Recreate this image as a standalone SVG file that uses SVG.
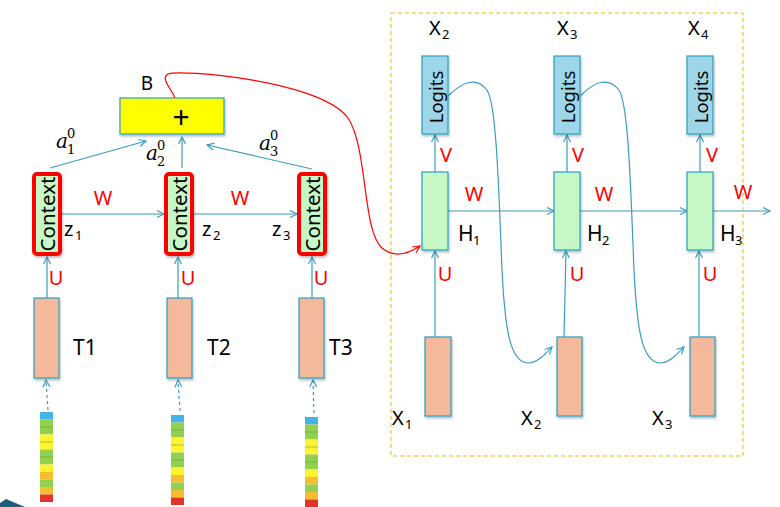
<svg xmlns="http://www.w3.org/2000/svg" width="780" height="507" viewBox="0 0 780 507">
<style>
.lbl{font-family:"Noto Sans","Liberation Sans",sans-serif;fill:#000}
.red{font-family:"Noto Sans","Liberation Sans",sans-serif;fill:#ff0000;font-size:20px;text-anchor:middle}
.sub{font-size:13px}
.math{font-family:"DejaVu Serif","Liberation Serif",serif;font-style:italic;fill:#000;font-size:20px}
.mnum{font-family:"DejaVu Serif","Liberation Serif",serif;fill:#000;font-size:13px}
.conn{stroke:#3a9cc0;stroke-width:1.2;fill:none}
.dash{stroke:#3a9cc0;stroke-width:1.2;fill:none;stroke-dasharray:3 3}
.ctx{fill:#c6f8c6;stroke:#ff0000;stroke-width:4}
.hid{fill:#c6f8c6;stroke:#2a9ec0;stroke-width:1.2}
.inp{fill:#f4b99a;stroke:#2a9ec0;stroke-width:1.2}
.log{fill:#9dd6e8;stroke:#2a9ec0;stroke-width:1.2}
</style>
<defs>
<filter id="sh" x="-30%" y="-30%" width="160%" height="160%">
<feDropShadow dx="1" dy="2" stdDeviation="1" flood-color="#000" flood-opacity="0.25"/>
</filter>
<marker id="ah" markerWidth="10" markerHeight="10" refX="8" refY="4" orient="auto" markerUnits="userSpaceOnUse">
<path d="M1,0.5 L8,4 L1,7.5" fill="none" stroke="#3a9cc0" stroke-width="1.2"/>
</marker>
<marker id="ahr" markerWidth="10" markerHeight="10" refX="8" refY="4" orient="auto" markerUnits="userSpaceOnUse">
<path d="M1,0.5 L8,4 L1,7.5" fill="none" stroke="#ff0000" stroke-width="1.2"/>
</marker>
<g id="bar">
<rect x="0" y="0" width="13" height="7.5" fill="#43b3e8"/>
<rect x="0" y="7.5" width="13" height="7.5" fill="#92d050"/>
<rect x="0" y="15" width="13" height="7.5" fill="#92d050"/>
<rect x="0" y="22.5" width="13" height="7.5" fill="#fff22e"/>
<rect x="0" y="30" width="13" height="7.5" fill="#fff22e"/>
<rect x="0" y="37.5" width="13" height="7.5" fill="#92d050"/>
<rect x="0" y="45" width="13" height="7.5" fill="#92d050"/>
<rect x="0" y="52.5" width="13" height="7.5" fill="#fff22e"/>
<rect x="0" y="60" width="13" height="7.5" fill="#f6bd31"/>
<rect x="0" y="67.5" width="13" height="7.5" fill="#92d050"/>
<rect x="0" y="75" width="13" height="7.5" fill="#f6bd31"/>
<rect x="0" y="82.5" width="13" height="7.5" fill="#e0352b"/>
<path d="M0,15 H13 M0,30 H13 M0,45 H13" stroke="#6a9a3a" stroke-width="0.8" opacity="0.7"/>
</g>
</defs>
<rect width="780" height="507" fill="#fff"/>

<polygon points="0,503 6,499 25,507 0,507" fill="#1d5f78"/>

<rect x="391" y="13" width="352" height="443" fill="none" stroke="#f5b400" stroke-width="1" stroke-dasharray="4 3"/>

<g id="connectors">
<line class="conn" x1="50" y1="168" x2="146" y2="141" marker-end="url(#ah)"/>
<line class="conn" x1="182" y1="168" x2="182" y2="137" marker-end="url(#ah)"/>
<line class="conn" x1="312" y1="169" x2="207" y2="145" marker-end="url(#ah)"/>
<line class="conn" x1="62" y1="214" x2="164" y2="214" marker-end="url(#ah)"/>
<line class="conn" x1="194" y1="214" x2="297" y2="214" marker-end="url(#ah)"/>
<line class="conn" x1="47" y1="298" x2="47" y2="257" marker-end="url(#ah)"/>
<line class="conn" x1="178" y1="298" x2="178" y2="257" marker-end="url(#ah)"/>
<line class="conn" x1="312" y1="298" x2="312" y2="257" marker-end="url(#ah)"/>
<line class="dash" x1="48" y1="410" x2="46" y2="380" marker-end="url(#ah)"/>
<line class="dash" x1="180" y1="411" x2="178" y2="380" marker-end="url(#ah)"/>
<line class="dash" x1="314" y1="413" x2="313" y2="380" marker-end="url(#ah)"/>
<path d="M175,98 C172,90 160,78 168,74 C178,69 320,80 348,118 C368,148 362,230 382,248 C394,258 408,254 420,246" fill="none" stroke="#ff0000" stroke-width="1.2" marker-end="url(#ahr)"/>
<line class="conn" x1="435" y1="172" x2="435" y2="135" marker-end="url(#ah)"/>
<line class="conn" x1="567" y1="172" x2="567" y2="135" marker-end="url(#ah)"/>
<line class="conn" x1="700" y1="172" x2="700" y2="135" marker-end="url(#ah)"/>
<line class="conn" x1="448" y1="211" x2="554" y2="211" marker-end="url(#ah)"/>
<line class="conn" x1="580" y1="211" x2="687" y2="211" marker-end="url(#ah)"/>
<line class="conn" x1="713" y1="211" x2="770" y2="211" marker-end="url(#ah)"/>
<line class="conn" x1="435" y1="337" x2="435" y2="251" marker-end="url(#ah)"/>
<line class="conn" x1="564" y1="337" x2="566" y2="251" marker-end="url(#ah)"/>
<line class="conn" x1="699" y1="337" x2="699" y2="251" marker-end="url(#ah)"/>
<path class="conn" d="M448,96 C462,82 476,76 487,90 C497,105 499,200 502,270 C505,330 510,362 528,363 C538,363 546,353 552,347" marker-end="url(#ah)"/>
<path class="conn" d="M580,96 C594,82 608,76 619,90 C629,105 631,200 634,270 C637,330 642,362 660,363 C670,363 678,353 684,347" marker-end="url(#ah)"/>
</g>

<g id="sum">
<rect x="120" y="98" width="104" height="36" fill="#ffff00" stroke="#2a9ec0" stroke-width="1.2" filter="url(#sh)"/>
<text class="lbl" x="181" y="128" font-size="30" text-anchor="middle">+</text>
<text class="lbl" x="147" y="90" font-size="19" text-anchor="middle">B</text>
</g>

<g id="ctx1">
<rect class="ctx" x="34" y="174" width="26" height="80" rx="3" filter="url(#sh)"/>
<text class="lbl" font-size="20.5" text-anchor="middle" dominant-baseline="central" transform="translate(47,214) rotate(-90)">Context</text>
</g>
<g id="ctx2">
<rect class="ctx" x="166" y="174" width="26" height="80" rx="3" filter="url(#sh)"/>
<text class="lbl" font-size="20.5" text-anchor="middle" dominant-baseline="central" transform="translate(179,214) rotate(-90)">Context</text>
</g>
<g id="ctx3">
<rect class="ctx" x="299" y="174" width="26" height="80" rx="3" filter="url(#sh)"/>
<text class="lbl" font-size="20.5" text-anchor="middle" dominant-baseline="central" transform="translate(312,214) rotate(-90)">Context</text>
</g>

<g id="labels-left">
<text class="math" x="56" y="148">a</text>
<text class="mnum" x="67" y="154">1</text>
<text class="mnum" x="67" y="138">0</text>
<text class="math" x="146" y="160">a</text>
<text class="mnum" x="157" y="166">2</text>
<text class="mnum" x="157" y="150">0</text>
<text class="math" x="259" y="150">a</text>
<text class="mnum" x="270" y="156">3</text>
<text class="mnum" x="270" y="140">0</text>
<text class="red" x="103" y="205">W</text>
<text class="red" x="240" y="205">W</text>
<text class="lbl" x="64" y="236" font-size="20">z</text>
<text class="lbl sub" x="75" y="240" font-size="11">1</text>
<text class="lbl" x="202" y="236" font-size="20">z</text>
<text class="lbl sub" x="213" y="240" font-size="11">2</text>
<text class="lbl" x="272" y="236" font-size="20">z</text>
<text class="lbl sub" x="283" y="240" font-size="11">3</text>
<text class="red" x="56" y="285">U</text>
<text class="red" x="188" y="285">U</text>
<text class="red" x="321" y="285">U</text>
</g>

<g id="t1">
<rect class="inp" x="34" y="298" width="25" height="80" filter="url(#sh)"/>
<text class="lbl" x="73" y="355" font-size="21">T1</text>
</g>
<g id="t2">
<rect class="inp" x="167" y="298" width="25" height="80" filter="url(#sh)"/>
<text class="lbl" x="207" y="355" font-size="21">T2</text>
</g>
<g id="t3">
<rect class="inp" x="299" y="298" width="25" height="80" filter="url(#sh)"/>
<text class="lbl" x="329" y="355" font-size="21">T3</text>
</g>

<g id="emb1"><use href="#bar" x="40" y="412"/></g>
<g id="emb2"><use href="#bar" x="171" y="415"/></g>
<g id="emb3"><use href="#bar" x="305" y="417"/></g>

<g id="logits1">
<rect class="log" x="422" y="56" width="26" height="78" filter="url(#sh)"/>
<text class="lbl" font-size="18.5" text-anchor="middle" dominant-baseline="central" transform="translate(435,97) rotate(-90)">Logits</text>
<text class="lbl" x="429" y="35" font-size="20">X</text>
<text class="lbl sub" x="442" y="39">2</text>
</g>
<g id="logits2">
<rect class="log" x="554" y="56" width="26" height="78" filter="url(#sh)"/>
<text class="lbl" font-size="18.5" text-anchor="middle" dominant-baseline="central" transform="translate(567,97) rotate(-90)">Logits</text>
<text class="lbl" x="557" y="35" font-size="20">X</text>
<text class="lbl sub" x="570" y="39">3</text>
</g>
<g id="logits3">
<rect class="log" x="687" y="56" width="26" height="78" filter="url(#sh)"/>
<text class="lbl" font-size="18.5" text-anchor="middle" dominant-baseline="central" transform="translate(700,97) rotate(-90)">Logits</text>
<text class="lbl" x="688" y="35" font-size="20">X</text>
<text class="lbl sub" x="701" y="39">4</text>
</g>

<g id="h1">
<rect class="hid" x="422" y="172" width="26" height="78" filter="url(#sh)"/>
<text class="lbl" x="458" y="241" font-size="21">H</text>
<text class="lbl sub" x="473" y="245">1</text>
</g>
<g id="h2">
<rect class="hid" x="554" y="172" width="26" height="78" filter="url(#sh)"/>
<text class="lbl" x="587" y="241" font-size="21">H</text>
<text class="lbl sub" x="602" y="245">2</text>
</g>
<g id="h3">
<rect class="hid" x="687" y="172" width="26" height="78" filter="url(#sh)"/>
<text class="lbl" x="720" y="241" font-size="21">H</text>
<text class="lbl sub" x="735" y="245">3</text>
</g>

<g id="x1">
<rect class="inp" x="425" y="337" width="26" height="79" filter="url(#sh)"/>
<text class="lbl" x="392" y="425" font-size="20">X</text>
<text class="lbl sub" x="405" y="429">1</text>
</g>
<g id="x2">
<rect class="inp" x="557" y="337" width="25" height="79" filter="url(#sh)"/>
<text class="lbl" x="521" y="425" font-size="20">X</text>
<text class="lbl sub" x="534" y="429">2</text>
</g>
<g id="x3">
<rect class="inp" x="690" y="337" width="25" height="79" filter="url(#sh)"/>
<text class="lbl" x="652" y="425" font-size="20">X</text>
<text class="lbl sub" x="665" y="429">3</text>
</g>

<g id="labels-right">
<text class="red" x="446" y="162">V</text>
<text class="red" x="578" y="162">V</text>
<text class="red" x="712" y="162">V</text>
<text class="red" x="474" y="201">W</text>
<text class="red" x="604" y="201">W</text>
<text class="red" x="743" y="199">W</text>
<text class="red" x="445" y="281">U</text>
<text class="red" x="577" y="281">U</text>
<text class="red" x="710" y="281">U</text>
</g>
</svg>
